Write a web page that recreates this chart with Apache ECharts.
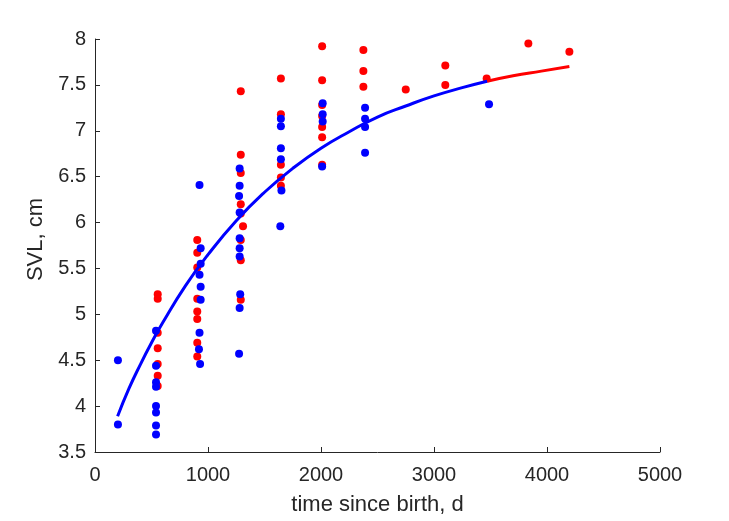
<!DOCTYPE html>
<html>
<head>
<meta charset="utf-8">
<script src="https://cdn.jsdelivr.net/npm/echarts@6/dist/echarts.min.js"></script>
<style>html,body{margin:0;padding:0;background:#fff;}#c{width:729px;height:521px;}</style>
</head>
<body>
<div id="c"></div>
<script>
// Axis ticks
var xTicks = [0, 1000, 2000, 3000, 4000, 5000];
var yTicks = [3.5, 4, 4.5, 5, 5.5, 6, 6.5, 7, 7.5, 8];

// Red points (x = days, y = SVL cm)
var redX = [555, 555, 555, 555, 555, 555, 555,
            905, 905, 905, 905, 905, 905, 905, 905,
            1290, 1290, 1290, 1290, 1290, 1310, 1290, 1290, 1290,
            1645, 1645, 1645, 1645, 1645,
            2010, 2010, 2010, 2010, 2010, 2010, 2010,
            2375, 2375, 2375,
            2750, 3100, 3100, 3466, 3835, 4198];
var redY = [5.22, 5.17, 4.80, 4.63, 4.46, 4.33, 4.22,
            5.81, 5.67, 5.51, 5.17, 5.03, 4.95, 4.69, 4.54,
            7.43, 6.74, 6.54, 6.20, 6.10, 5.96, 5.81, 5.59, 5.16,
            7.57, 7.18, 6.63, 6.49, 6.40,
            7.92, 7.55, 7.28, 7.16, 7.04, 6.93, 6.63,
            7.88, 7.65, 7.48,
            7.45, 7.71, 7.50, 7.57, 7.95, 7.86];

// Blue points
var blueX = [203, 203,
             540, 540, 540, 540, 540, 540, 540, 540,
             925, 935, 935, 925, 935, 935, 925, 920, 930,
             1280, 1280, 1275, 1280, 1280, 1280, 1280, 1285, 1280, 1275,
             1645, 1645, 1645, 1645, 1650, 1640,
             2015, 2015, 2015, 2010,
             2390, 2390, 2390, 2390,
             3487];
var blueY = [4.50, 3.80,
             4.82, 4.44, 4.26, 4.21, 4.00, 3.93, 3.79, 3.69,
             6.41, 5.72, 5.55, 5.43, 5.30, 5.16, 4.80, 4.62, 4.46,
             6.59, 6.40, 6.29, 6.11, 5.83, 5.72, 5.63, 5.22, 5.07, 4.57,
             7.13, 7.05, 6.81, 6.69, 6.35, 5.96,
             7.30, 7.18, 7.10, 6.61,
             7.25, 7.13, 7.04, 6.76,
             7.29];

// Fitted growth curve
var blueCurveX = [200, 300, 400, 500, 600, 800, 1000, 1250, 1500, 1750, 2000, 2250, 2500, 2750, 3000, 3250, 3470];
var blueCurveY = [3.89, 4.19, 4.45, 4.69, 4.91, 5.31, 5.65, 6.02, 6.33, 6.59, 6.81, 6.99, 7.15, 7.27, 7.38, 7.47, 7.54];
var redCurveX = [3470, 3700, 3950, 4198];
var redCurveY = [7.54, 7.60, 7.65, 7.70];

function zip(a, b) { return a.map(function (v, i) { return [v, b[i]]; }); }

var font = '"Liberation Sans", Arial, Helvetica, sans-serif';
var axisColor = '#262626';

var chart = echarts.init(document.getElementById('c'), null, {renderer: 'canvas'});
chart.setOption({
  animation: false,
  backgroundColor: '#ffffff',
  grid: {left: 95, right: 69, top: 39, bottom: 68, containLabel: false},
  xAxis: {
    type: 'value',
    min: xTicks[0], max: xTicks[xTicks.length - 1], interval: 1000,
    name: 'time since birth, d',
    nameLocation: 'middle', nameGap: 42,
    nameTextStyle: {fontFamily: font, fontSize: 22, color: axisColor},
    axisLine: {show: true, lineStyle: {color: axisColor, width: 1}},
    axisTick: {show: true, inside: true, length: 5, lineStyle: {color: axisColor}},
    axisLabel: {fontFamily: font, fontSize: 20, color: axisColor, margin: 13,
                formatter: function (v) { return String(v); }},
    splitLine: {show: false}
  },
  yAxis: {
    type: 'value',
    min: yTicks[0], max: yTicks[yTicks.length - 1], interval: 0.5,
    name: 'SVL, cm',
    nameLocation: 'middle', nameGap: 47,
    nameTextStyle: {fontFamily: font, fontSize: 22, color: axisColor, padding: [0, 0, 0, 12]},
    axisLine: {show: true, lineStyle: {color: axisColor, width: 1}},
    axisTick: {show: true, inside: true, length: 5, lineStyle: {color: axisColor}},
    axisLabel: {fontFamily: font, fontSize: 20, color: axisColor, margin: 9,
                formatter: function (v) { return String(v); }},
    splitLine: {show: false}
  },
  series: [
    {type: 'scatter', data: zip(redX, redY), symbol: 'circle', symbolSize: 8,
     itemStyle: {color: '#ff0000', opacity: 1}, z: 2},
    {type: 'scatter', data: zip(blueX, blueY), symbol: 'circle', symbolSize: 8,
     itemStyle: {color: '#0000ff', opacity: 1}, z: 3},
    {type: 'line', data: zip(redCurveX, redCurveY), smooth: true, symbol: 'none',
     lineStyle: {color: '#ff0000', width: 3}, z: 4},
    {type: 'line', data: zip(blueCurveX, blueCurveY), smooth: true, symbol: 'none',
     lineStyle: {color: '#0000ff', width: 3}, z: 5}
  ]
});
</script>
</body>
</html>
